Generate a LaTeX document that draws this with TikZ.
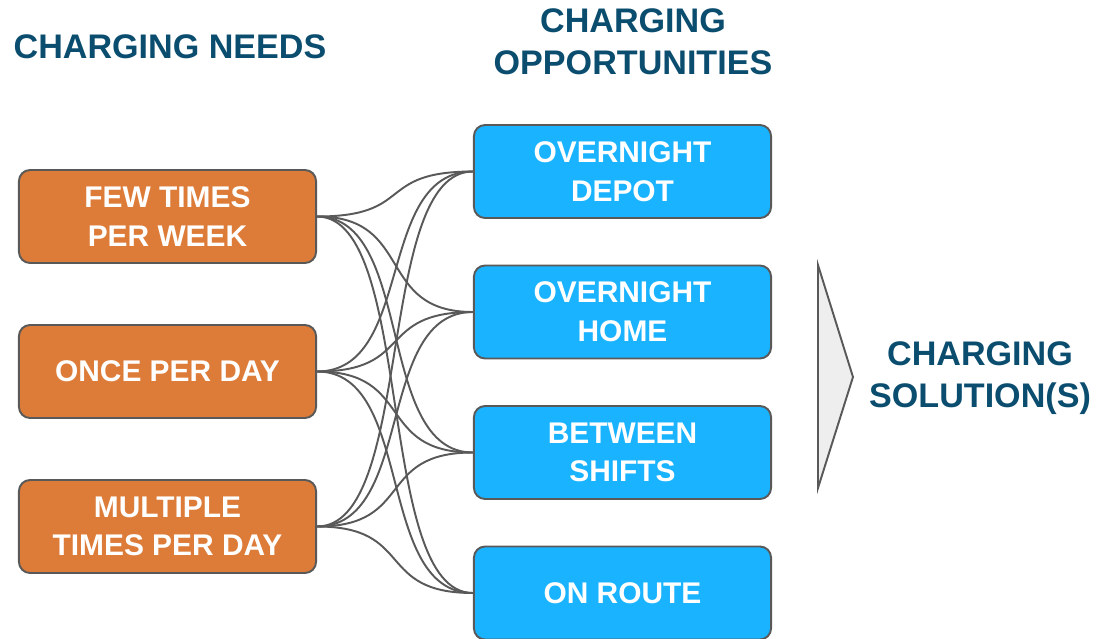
\documentclass[tikz,border=0pt]{standalone}
\usepackage{fontspec}
\setmainfont{Liberation Sans}
\definecolor{hdr}{HTML}{0B4D6E}
\definecolor{org}{HTML}{DD7C38}
\definecolor{blu}{HTML}{1AB3FF}
\definecolor{edge}{HTML}{595959}
\definecolor{tri}{HTML}{EEEEEE}
\begin{document}
\begin{tikzpicture}[x=0.01cm,y=-0.01cm,
  box/.style={draw=edge,line width=0.55pt,rounded corners=3.2pt,minimum width=2.97cm,minimum height=0.93cm,
    inner sep=0pt,align=center,text=white,font=\fontsize{8.5}{11}\selectfont\bfseries},
  need/.style={box,fill=org},
  opp/.style={box,fill=blu},
  head/.style={text=hdr,align=center,inner sep=0pt,font=\fontsize{9.7}{12}\selectfont\bfseries},
  link/.style={draw=edge,line width=0.55pt}]
\useasboundingbox (0,0) rectangle (1105,639);
\node[head] (h1) at (170,47) {CHARGING NEEDS};
\node[head] (h2) at (633,42) {CHARGING\\OPPORTUNITIES};
\node[head] (h3) at (980,378) {CHARGING\\SOLUTION(S)};

\node[need] (n1) at (167.5,216.5) {FEW TIMES\\PER WEEK};
\node[need] (n2) at (167.5,371.5) {ONCE PER DAY};
\node[need] (n3) at (167.5,526.5) {MULTIPLE\\TIMES PER DAY};

\node[opp] (o1) at (622.5,171.5) {OVERNIGHT\\DEPOT};
\node[opp] (o2) at (622.5,312) {OVERNIGHT\\HOME};
\node[opp] (o3) at (622.5,452.5) {BETWEEN\\SHIFTS};
\node[opp] (o4) at (622.5,593) {ON ROUTE};

\foreach \a in {n1,n2,n3}{
  \foreach \b in {o1,o2,o3,o4}{
    \draw[link] (\a.east) .. controls +(98,0) and +(-98,0) .. (\b.west);
  }
}

\draw[draw=edge,fill=tri,line width=0.55pt] (818,265) -- (853,377) -- (818,488) -- cycle;
\end{tikzpicture}
\end{document}
